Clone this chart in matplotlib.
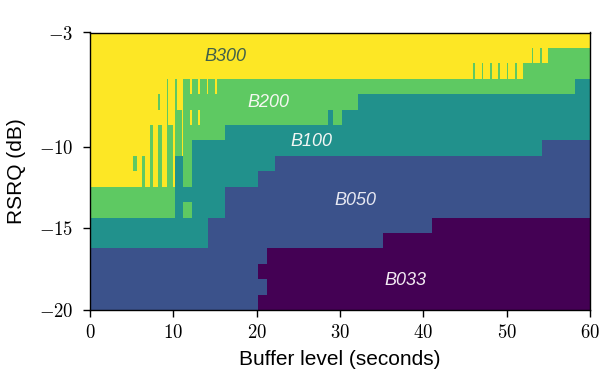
import numpy as np
import matplotlib
matplotlib.use("Agg")
import matplotlib.pyplot as plt
from matplotlib.colors import ListedColormap, BoundaryNorm

plt.rcParams["mathtext.fontset"] = "cm"
plt.rcParams["font.family"] = ["Liberation Sans", "DejaVu Sans"]

# Bitrate classes, lowest to highest
bitrates = ["B033", "B050", "B100", "B200", "B300"]

# Decision grid: buffer level (s) along x, RSRQ (dB) along y
buffer_step = 0.2
buffer_max = 60.0
rsrq_min, rsrq_max, rsrq_rows = -20.0, -3.0, 18

# Lowest RSRQ row at which each bitrate is selected, as steps over buffer level
# (buffer level where the step starts, first row)
floor_b050 = [(0, 0), (20.2, 3), (21.2, 4), (35.2, 5), (41.0, 6)]
floor_b100 = [(0, 4), (14.2, 6), (16.2, 8), (20.2, 9), (22.2, 10), (54.2, 11)]
floor_b200 = [(0, 6), (10.2, 10), (11.2, 8), (12.2, 11), (16.2, 12),
              (28.6, 13), (29.2, 12), (30.2, 13), (32.2, 14), (58.2, 15)]
floor_b300 = [(0, 8), (11.2, 15), (52.0, 16), (55.0, 17)]

# Isolated cells that depart from the staircase:
# (buffer from, buffer to, first row, last row + 1, bitrate index)
islands = [
    (5.2, 5.6, 9, 10, 3),
    (6.2, 6.6, 8, 10, 3),
    (7.2, 7.6, 8, 12, 3),
    (8.2, 8.6, 8, 12, 3),
    (8.2, 8.4, 13, 14, 3),
    (9.2, 9.4, 8, 15, 3),
    (9.4, 10.0, 8, 12, 3),
    (10.2, 10.4, 10, 15, 3),
    (10.4, 11.0, 10, 13, 3),
    (11.2, 12.2, 6, 7, 3),
    (12.0, 12.2, 12, 13, 4),
    (12.0, 12.2, 14, 15, 4),
    (13.0, 13.2, 12, 13, 4),
    (13.0, 13.2, 14, 15, 4),
    (14.0, 14.2, 14, 15, 4),
    (15.0, 15.2, 14, 15, 4),
    (20.2, 21.2, 1, 2, 1),
    (46.0, 46.2, 15, 16, 3),
    (47.0, 47.2, 15, 16, 3),
    (48.0, 48.2, 15, 16, 3),
    (49.0, 49.2, 15, 16, 3),
    (50.0, 50.2, 15, 16, 3),
    (51.0, 51.2, 15, 16, 3),
    (53.0, 53.2, 16, 17, 3),
    (54.0, 54.2, 16, 17, 3),
]

# Text labels placed on each region: (buffer, RSRQ)
label_pos = [(37.9, -18.2), (31.9, -13.3), (26.6, -9.7), (21.4, -7.3), (16.2, -4.5)]
label_color = ["#f3eaf3", "#e6e8f2", "#f2f6f4", "#f4f8f0", "#41604a"]

xticks = [0, 10, 20, 30, 40, 50, 60]
yticks = [-20, -15, -10, -3]

# ---- build the grid ----
x_edges = np.linspace(0, buffer_max, int(round(buffer_max / buffer_step)) + 1)
y_edges = np.linspace(rsrq_min, rsrq_max, rsrq_rows + 1)
x_mid = 0.5 * (x_edges[:-1] + x_edges[1:])
rows = np.arange(rsrq_rows)


def step_floor(steps, x):
    out = np.zeros_like(x, dtype=int)
    for start, r in steps:
        out[x >= start - 1e-9] = r
    return out


floors = [step_floor(s, x_mid) for s in (floor_b050, floor_b100, floor_b200, floor_b300)]
for k in range(1, len(floors)):
    floors[k] = np.maximum(floors[k], floors[k - 1])

grid = np.zeros((rsrq_rows, x_mid.size), dtype=int)
for k, fl in enumerate(floors, start=1):
    grid[rows[:, None] >= fl[None, :]] = k

for x0, x1, r0, r1, lvl in islands:
    cols = (x_mid > x0) & (x_mid < x1)
    grid[r0:r1, cols] = lvl

# ---- draw ----
cmap = ListedColormap(plt.get_cmap("viridis")(np.linspace(0, 1, len(bitrates))))
norm = BoundaryNorm(np.arange(len(bitrates) + 1) - 0.5, cmap.N)

fig = plt.figure(figsize=(6.03, 3.70), dpi=100)
ax = fig.add_axes([90 / 603, 1 - 310 / 370, 500 / 603, 277.5 / 370])
ax.pcolormesh(x_edges, y_edges, grid, cmap=cmap, norm=norm, shading="flat",
              antialiased=False, rasterized=True)

for name, (bx, ry), c in zip(bitrates, label_pos, label_color):
    ax.text(bx, ry, name, color=c, fontsize=13, fontstyle="italic",
            ha="center", va="center")

ax.set_xlim(0, buffer_max)
ax.set_ylim(rsrq_min, rsrq_max)
ax.set_xticks(xticks)
ax.set_xticklabels([f"${v}$" for v in xticks])
ax.set_yticks(yticks)
ax.set_yticklabels([f"${v}$" for v in yticks])
ax.tick_params(direction="out", length=5, width=1, labelsize=13.5, colors="black")
ax.tick_params(axis="y", pad=7)
ax.tick_params(axis="x", pad=5)
for s in ax.spines.values():
    s.set_linewidth(1.0)
    s.set_color("black")

ax.set_xlabel("Buffer level (seconds)", fontsize=15, labelpad=6)
ax.set_ylabel("RSRQ (dB)", fontsize=15, labelpad=9)

fig.savefig("out.png", dpi=100)
